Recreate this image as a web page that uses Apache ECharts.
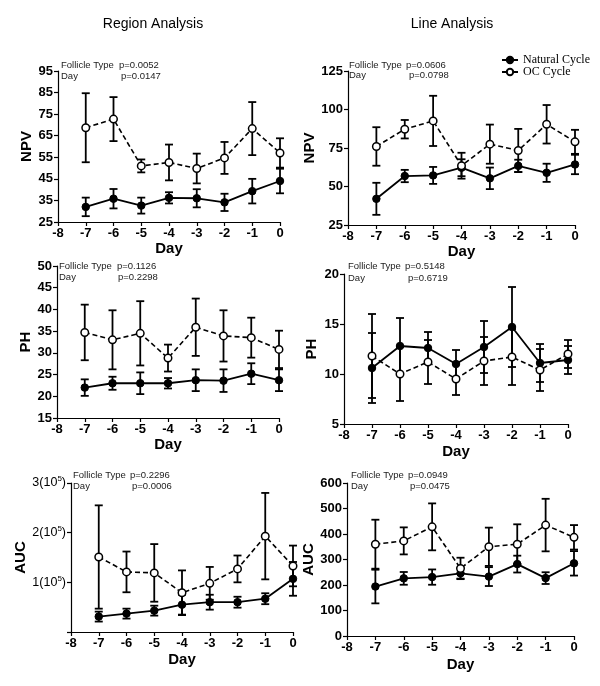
<!DOCTYPE html>
<html>
<head>
<meta charset="utf-8">
<script src="https://cdn.jsdelivr.net/npm/echarts@6/dist/echarts.min.js"></script>
<style>html,body{margin:0;padding:0;background:#fff}#c{width:600px;height:686px}</style>
</head>
<body>
<div id="c"></div>
<script>
const days = [-7, -6, -5, -4, -3, -2, -1, 0];
const xTicks = [-8, -7, -6, -5, -4, -3, -2, -1, 0];

// Panel 1: Region Analysis NPV
const npvRegNat = [32, 35.8, 32.6, 36.2, 36, 34.1, 39.3, 44];
const npvRegNatErr = [4.3, 4.5, 3.7, 2.6, 4.2, 4, 5.7, 5.7];
const npvRegOC = [68.7, 72.7, 51, 52.6, 49.8, 54.7, 68.3, 57];
const npvRegOCErr = [16, 10.2, 3, 8.3, 6.9, 7.4, 12.3, 6.8];

// Panel 2: Line Analysis NPV
const npvLinNat = [42, 56.8, 57.2, 62.2, 55.3, 63.4, 58.9, 64.3];
const npvLinNatErr = [10.4, 4, 5.5, 5.5, 7, 4, 5.9, 6.3];
const npvLinOC = [76, 87.2, 92.6, 63.5, 77.5, 73.4, 90.4, 79];
const npvLinOCErr = [12.5, 6, 16.3, 8.4, 12.7, 14, 12.5, 7.8];

// Panel 3: Region Analysis PH
const phRegNat = [22, 23, 23, 23, 23.7, 23.6, 25.2, 23.7];
const phRegNatErr = [1.9, 1.5, 2.5, 1.2, 2.5, 2.6, 2.4, 2.5];
const phRegOC = [34.7, 33, 34.5, 28.8, 35.9, 33.9, 33.5, 30.8];
const phRegOCErr = [6.4, 6.8, 7.4, 3.1, 6.6, 5.9, 4.6, 4.3];

// Panel 4: Line Analysis PH
const phLinNat = [10.6, 12.8, 12.6, 11, 12.7, 14.7, 11.1, 11.4];
const phLinNatErr = [3.5, 2.8, 1.6, 1.4, 2.6, 4, 1.9, 1.4];
const phLinOC = [11.8, 10, 11.2, 9.5, 11.3, 11.7, 10.4, 12];
const phLinOCErr = [4.2, 2.7, 2.2, 1.6, 2.4, 2.8, 2.1, 1.4];

// Panel 5: Region Analysis AUC
const aucRegNat = [31000, 37000, 43000, 55000, 60000, 60000, 67000, 107000];
const aucRegNatErr = [10000, 10000, 10000, 20000, 15000, 11000, 11000, 34000];
const aucRegOC = [151000, 121000, 119000, 79000, 98000, 127000, 193000, 133000];
const aucRegOCErr = [104000, 41000, 58000, 45000, 33000, 27000, 87000, 41000];

// Panel 6: Line Analysis AUC
const aucLinNat = [194, 226, 231, 246, 233, 282, 227, 285];
const aucLinNatErr = [66, 25, 30, 21, 37, 33, 23, 48];
const aucLinOC = [360, 373, 428, 265, 350, 360, 435, 387];
const aucLinOCErr = [96, 53, 92, 42, 75, 78, 103, 48];

const pTexts = [
  ['p=0.0052', 'p=0.0147'], ['p=0.0606', 'p=0.0798'],
  ['p=0.1126', 'p=0.2298'], ['p=0.5148', 'p=0.6719'],
  ['p=0.2296', 'p=0.0006'], ['p=0.0949', 'p=0.0475']
];

const panels = [
  { grid: { left: 58, top: 71, width: 222, height: 151 }, y: { min: 25, max: 95, interval: 10, name: 'NPV', gap: 20 }, xGap: 17,
    nat: npvRegNat, natErr: npvRegNatErr, oc: npvRegOC, ocErr: npvRegOCErr,
    ann: { x: 61, y1: 65, y2: 76, p1: 119, p2: 121 } },
  { grid: { left: 348, top: 71, width: 227, height: 154 }, y: { min: 25, max: 125, interval: 25, name: 'NPV', gap: 26 }, xGap: 17,
    nat: npvLinNat, natErr: npvLinNatErr, oc: npvLinOC, ocErr: npvLinOCErr,
    ann: { x: 349, y1: 65, y2: 75, p1: 406, p2: 409 } },
  { grid: { left: 57, top: 266, width: 222, height: 152 }, y: { min: 15, max: 50, interval: 5, name: 'PH', gap: 21 }, xGap: 19,
    nat: phRegNat, natErr: phRegNatErr, oc: phRegOC, ocErr: phRegOCErr,
    ann: { x: 59, y1: 266, y2: 277.5, p1: 117, p2: 118 } },
  { grid: { left: 344, top: 274, width: 224, height: 150 }, y: { min: 5, max: 20, interval: 5, name: 'PH', gap: 25 }, xGap: 20,
    nat: phLinNat, natErr: phLinNatErr, oc: phLinOC, ocErr: phLinOCErr,
    ann: { x: 348, y1: 266.5, y2: 278, p1: 405, p2: 408 } },
  { grid: { left: 71, top: 483, width: 222, height: 149 }, y: { min: 0, max: 300000, interval: 100000, name: 'AUC', gap: 35, sci: true }, xGap: 20,
    nat: aucRegNat, natErr: aucRegNatErr, oc: aucRegOC, ocErr: aucRegOCErr,
    ann: { x: 73, y1: 475.5, y2: 486.5, p1: 130, p2: 132 } },
  { grid: { left: 347, top: 483, width: 227, height: 153 }, y: { min: 0, max: 600, interval: 100, name: 'AUC', gap: 29 }, xGap: 21,
    nat: aucLinNat, natErr: aucLinNatErr, oc: aucLinOC, ocErr: aucLinOCErr,
    ann: { x: 351, y1: 475.5, y2: 486.5, p1: 408, p2: 410 } }
];

const FONT = 'Liberation Sans, Arial, sans-serif';
const axisTick = { show: true, inside: false, length: 4, lineStyle: { color: '#000', width: 1.2 } };

const grids = [], xAxes = [], yAxes = [], series = [], graphics = [];

function errSeries(gi, mean, err) {
  return {
    type: 'custom', xAxisIndex: gi, yAxisIndex: gi, silent: true, z: 1,
    data: days.map((d, i) => [d, mean[i] - err[i], mean[i] + err[i]]),
    encode: { x: 0, y: [1, 2] },
    renderItem: function (params, api) {
      const x = api.value(0);
      const lo = api.coord([x, api.value(1)]);
      const hi = api.coord([x, api.value(2)]);
      const w = 4;
      const st = { stroke: '#000', lineWidth: 1.8 };
      return {
        type: 'group', children: [
          { type: 'line', shape: { x1: lo[0], y1: lo[1], x2: hi[0], y2: hi[1] }, style: st },
          { type: 'line', shape: { x1: lo[0] - w, y1: lo[1], x2: lo[0] + w, y2: lo[1] }, style: st },
          { type: 'line', shape: { x1: hi[0] - w, y1: hi[1], x2: hi[0] + w, y2: hi[1] }, style: st }
        ]
      };
    }
  };
}

panels.forEach((p, gi) => {
  grids.push(Object.assign({ containLabel: false }, p.grid));
  xAxes.push({
    type: 'value', gridIndex: gi, min: -8, max: 0, interval: 1, position: 'bottom',
    name: 'Day', nameLocation: 'middle', nameGap: p.xGap,
    nameTextStyle: { fontFamily: FONT, fontWeight: 'bold', fontSize: 15, color: '#000' },
    axisLine: { show: true, onZero: false, lineStyle: { color: '#000', width: 1.2 } },
    axisTick: axisTick, splitLine: { show: false },
    axisLabel: { fontFamily: FONT, fontWeight: 'bold', fontSize: 13, color: '#000', margin: 5 }
  });
  const ya = {
    type: 'value', gridIndex: gi, min: p.y.min, max: p.y.max, interval: p.y.interval, position: 'left',
    name: p.y.name, nameLocation: 'middle', nameGap: p.y.gap, nameRotate: 90,
    nameTextStyle: { fontFamily: FONT, fontWeight: 'bold', fontSize: 15, color: '#000' },
    axisLine: { show: true, onZero: false, lineStyle: { color: '#000', width: 1.2 } },
    axisTick: axisTick, splitLine: { show: false },
    axisLabel: { fontFamily: FONT, fontWeight: 'bold', fontSize: 13, color: '#000', margin: 5 }
  };
  if (p.y.sci) {
    ya.axisLabel = {
      fontFamily: FONT, fontSize: 12.5, color: '#000', margin: 5,
      formatter: v => v === 0 ? '' : (v / 100000) + '({a|10}{b|5})',
      rich: { a: { fontFamily: FONT, fontSize: 12.5, color: '#000' }, b: { fontFamily: FONT, fontSize: 8, color: '#000', padding: [0, 0, 8, 0] } }
    };
  }
  yAxes.push(ya);

  series.push(errSeries(gi, p.nat, p.natErr));
  series.push(errSeries(gi, p.oc, p.ocErr));
  series.push({
    name: 'Natural Cycle', type: 'line', xAxisIndex: gi, yAxisIndex: gi, z: 3,
    data: days.map((d, i) => [d, p.nat[i]]),
    symbol: 'circle', symbolSize: 7.5,
    lineStyle: { color: '#000', width: 1.8, type: 'solid' },
    itemStyle: { color: '#000', borderColor: '#000', borderWidth: 1 }
  });
  series.push({
    name: 'OC Cycle', type: 'line', xAxisIndex: gi, yAxisIndex: gi, z: 3,
    data: days.map((d, i) => [d, p.oc[i]]),
    symbol: 'circle', symbolSize: 7.5,
    lineStyle: { color: '#000', width: 1.6, type: [5, 3] },
    itemStyle: { color: '#fff', borderColor: '#000', borderWidth: 1.5 }
  });

  const aStyle = { fontFamily: FONT, fontSize: 9.5, fill: '#222' };
  graphics.push({ type: 'text', x: p.ann.x, y: p.ann.y1, style: Object.assign({ text: 'Follicle Type', textVerticalAlign: 'middle' }, aStyle) });
  graphics.push({ type: 'text', x: p.ann.p1, y: p.ann.y1, style: Object.assign({ text: pTexts[gi][0], textVerticalAlign: 'middle' }, aStyle) });
  graphics.push({ type: 'text', x: p.ann.x, y: p.ann.y2, style: Object.assign({ text: 'Day', textVerticalAlign: 'middle' }, aStyle) });
  graphics.push({ type: 'text', x: p.ann.p2, y: p.ann.y2, style: Object.assign({ text: pTexts[gi][1], textVerticalAlign: 'middle' }, aStyle) });
});

graphics.push({ type: 'text', x: 153, y: 24, style: { text: 'Region Analysis', fontFamily: FONT, fontSize: 14, fill: '#000', textAlign: 'center', textVerticalAlign: 'middle' } });
graphics.push({ type: 'text', x: 452, y: 24, style: { text: 'Line Analysis', fontFamily: FONT, fontSize: 14, fill: '#000', textAlign: 'center', textVerticalAlign: 'middle' } });

const chart = echarts.init(document.getElementById('c'), null, { renderer: 'canvas' });
chart.setOption({
  animation: false,
  backgroundColor: '#fff',
  grid: grids, xAxis: xAxes, yAxis: yAxes, series: series,
  legend: {
    orient: 'vertical', left: 496, top: 49, itemGap: 0, itemWidth: 16, itemHeight: 8,
    textStyle: { fontFamily: 'Liberation Serif, Times New Roman, serif', fontSize: 12, color: '#000' },
    data: [
      { name: 'Natural Cycle', itemStyle: { color: '#000' }, lineStyle: { type: 'solid', color: '#000' } },
      { name: 'OC Cycle', itemStyle: { color: '#fff', borderColor: '#000' }, lineStyle: { type: 'solid', color: '#000' } }
    ]
  },
  graphic: graphics
});
</script>
</body>
</html>
